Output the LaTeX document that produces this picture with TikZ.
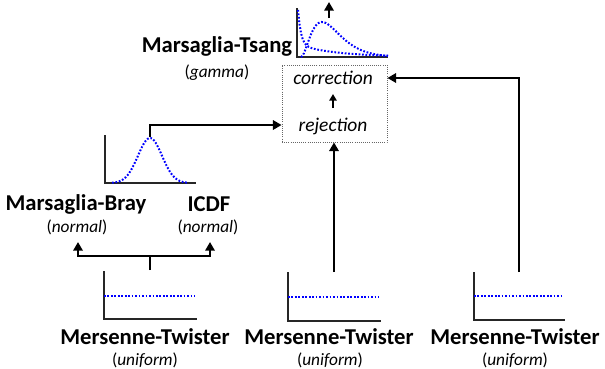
\documentclass[tikz,border=0pt]{standalone}
\usepackage{fontspec}
\setmainfont{Carlito}
\usetikzlibrary{arrows.meta}
\tikzset{
  axisline/.style={draw=black!85, line width=0.9pt},
  curve/.style={draw=blue, line width=1.5pt, dash pattern=on 1.3pt off 1.3pt},
  conn/.style={line width=2.2pt, -{Triangle[length=6.5pt,width=7pt]}},
  plain/.style={line width=2.2pt},
  lbl/.style={inner sep=0pt, font=\bfseries\fontsize{17}{19}\selectfont},
  sub/.style={inner sep=0pt, font=\fontsize{13}{15}\selectfont},
  stage/.style={inner sep=0pt, font=\itshape\fontsize{14.6}{16}\selectfont},
  procbox/.style={draw=black!60, densely dotted, line width=0.6pt, minimum width=78.75pt, minimum height=57.75pt, inner sep=0pt}
}
\begin{document}
\begin{tikzpicture}[x=0.75pt, y=-0.75pt]
\useasboundingbox (0,0) rectangle (605,368);

% ---- Marsaglia-Tsang gamma chart
\draw[axisline] (297,8) -- (297,57) -- (388,57);
\draw[curve] plot[domain=298:388, samples=60] (\x, {57-35*exp(-(\x-298)/3)-12*exp(-(\x-298)/40)});
\draw[curve] plot[domain=301:388, samples=60] (\x, {57-35/0.541*((\x-301)/10.5)^2*exp(-(\x-301)/10.5)});
\coordinate (gtop) at (329,18);
\coordinate (gout) at (329,2);
\draw[conn] (gtop) -- (gout);

\node[lbl] (tsang) at (217,46) {Marsaglia-Tsang};
\node[sub] (gamma) at (217,73) {(\textit{gamma})};

% ---- process box
\node[procbox] (box) at (334.5,103.5) {};
\node[stage] (corr) at (333,78) {correction};
\node[stage] (rej) at (333,126) {rejection};
\draw[line width=1.8pt, -{Triangle[length=5pt,width=5.5pt]}] (333,108) -- (333,94);

% ---- normal chart
\draw[axisline] (105,135) -- (105,183) -- (196,183);
\draw[curve] plot[domain=112:188, samples=50] (\x, {183-45*exp(-((\x-150)/12)^2/2)});
\coordinate (ntop) at (150,137);
\draw[conn] (ntop) |- (box.west |- 0,125);

\node[lbl] (bray) at (76,204) {Marsaglia-Bray};
\node[lbl] (icdf) at (209,204) {ICDF};
\node[sub] (normA) at (77,227) {(\textit{normal})};
\node[sub] (normB) at (208,227) {(\textit{normal})};

% ---- uniform charts
\draw[axisline] (104,271) -- (104,319) -- (197,319);
\draw[curve] (104,296) -- (195,296);
\draw[axisline] (288,272) -- (288,321) -- (381,321);
\draw[curve] (288,297) -- (379,297);
\draw[axisline] (474,272) -- (474,320) -- (565,320);
\draw[curve] (474,296) -- (563,296);

\node[lbl] (mtA) at (145,337) {Mersenne-Twister};
\node[lbl] (mtB) at (329,337) {Mersenne-Twister};
\node[lbl] (mtC) at (515,337) {Mersenne-Twister};
\node[sub] (uniA) at (145,360) {(\textit{uniform})};
\node[sub] (uniB) at (330,360) {(\textit{uniform})};
\node[sub] (uniC) at (515,360) {(\textit{uniform})};

% ---- connectors
\coordinate (uA) at (150,270);
\coordinate (uB) at (334,272);
\coordinate (uC) at (519,272);
\coordinate (split) at (150,256);
\coordinate (tA) at (78,242);
\coordinate (tB) at (210,242);
\draw[plain] (uA) -- (split);
\draw[conn] (split) -| (tA);
\draw[conn] (split) -| (tB);
\draw[conn] (uB) -- (uB |- box.south);
\draw[conn] (uC) |- (box.east |- corr);
\end{tikzpicture}
\end{document}
